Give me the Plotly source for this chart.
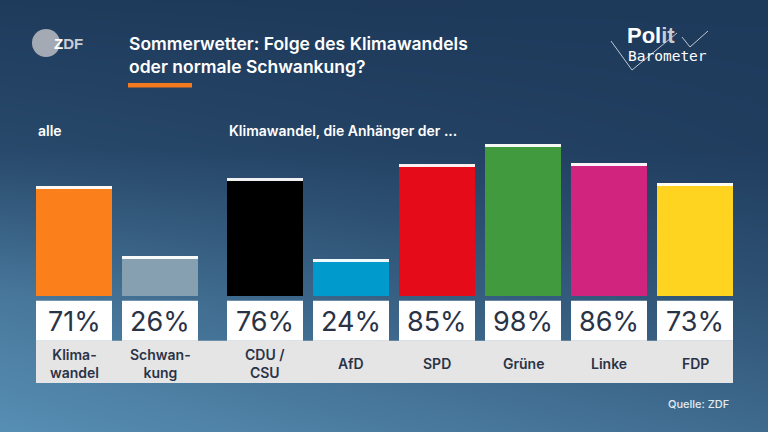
import plotly.graph_objects as go

# ---- data ----
categories = ["Klima-<br>wandel", "Schwan-<br>kung", "CDU /<br>CSU", "AfD", "SPD", "Grüne", "Linke", "FDP"]
values = [71, 26, 76, 24, 85, 98, 86, 73]
groups = [0, 0, 1, 1, 1, 1, 1, 1]
bar_colors = ["#fb7f1b", "#86a0b1", "#000000", "#009acd", "#e50b18", "#419b3e", "#d0247f", "#fed420"]

title_text = "Sommerwetter: Folge des Klimawandels<br>oder normale Schwankung?"
group_titles = ["alle", "Klimawandel, die Anhänger der ..."]
source_text = "Quelle: ZDF"

# ---- layout constants (pixels) ----
W, H = 768, 432
BASE_PX = 296.0          # pixel row of value 0
PX_PER_UNIT = 1.55       # pixels per percentage point
FIRST_CENTER = 74
PITCH = 86
GROUP_GAP = 19
BAR_W = 76
CAP = 1.9                # white cap thickness in value units

y_top = BASE_PX / PX_PER_UNIT
y_bottom = -(H - BASE_PX) / PX_PER_UNIT


def px2val(p):
    return (BASE_PX - p) / PX_PER_UNIT


def py(p):
    return 1 - p / H


centers = [FIRST_CENTER + i * PITCH + GROUP_GAP * g for i, g in enumerate(groups)]

fig = go.Figure()

# background gradient (heatmap)
bg_x = [-40, 384, 808]
bg_y_px = [-40, 150, 300, 472]
bg_t = [
    [0.0, 0.0, 0.02],
    [0.2, 0.12, 0.06],
    [0.72, 0.45, 0.28],
    [1.0, 0.82, 0.6],
]
fig.add_trace(go.Heatmap(
    x=bg_x, y=[px2val(p) for p in bg_y_px], z=bg_t,
    colorscale=[[0, "#1c3758"], [1, "#5c96bb"]], zmin=0, zmax=1,
    zsmooth="best", showscale=False, hoverinfo="skip"))

# bars
fig.add_trace(go.Bar(x=centers, y=values, base=[0] * len(values), width=BAR_W,
                     marker=dict(color=bar_colors, line=dict(width=0)), hoverinfo="skip"))
# white caps
fig.add_trace(go.Bar(x=centers, y=[CAP] * len(values), base=[v - CAP for v in values], width=BAR_W,
                     marker=dict(color="rgba(255,255,255,0.94)", line=dict(width=0)), hoverinfo="skip"))

shapes = []
# gray label band
shapes.append(dict(type="rect", xref="x", yref="paper",
                   x0=centers[0] - BAR_W / 2, x1=centers[-1] + BAR_W / 2,
                   y0=py(383), y1=py(340.7), fillcolor="#e6e5e5", line=dict(width=0)))
# white value boxes
for c in centers:
    shapes.append(dict(type="rect", xref="x", yref="paper",
                       x0=c - BAR_W / 2, x1=c + BAR_W / 2,
                       y0=py(340.7), y1=py(300.7), fillcolor="#ffffff", line=dict(width=0)))
# orange title underline
shapes.append(dict(type="rect", xref="x", yref="paper", x0=128, x1=192,
                   y0=py(87.5), y1=py(83), fillcolor="#f47a1f", line=dict(width=0)))
# ZDF logo circle
shapes.append(dict(type="circle", xref="x", yref="paper", x0=32, x1=60,
                   y0=py(57), y1=py(29), fillcolor="#a4aab4", line=dict(width=0)))
# Politbarometer zigzag
zig = [[(611, 41), (632, 70), (677, 33)], [(682, 37), (690, 47), (708, 31)]]
for seg in zig:
    for (xa, ya), (xb, yb) in zip(seg[:-1], seg[1:]):
        shapes.append(dict(type="line", xref="x", yref="paper", x0=xa, x1=xb,
                           y0=py(ya), y1=py(yb), line=dict(color="rgba(220,225,232,0.85)", width=1)))

annotations = []
dark = "#2a3346"
for c, v, lab in zip(centers, values, categories):
    annotations.append(dict(x=c, y=py(321.5), xref="x", yref="paper", text=f"{v}%",
                            showarrow=False, xanchor="center", yanchor="middle",
                            font=dict(family="Inter", size=27, color=dark, weight=400)))
    annotations.append(dict(x=c, y=py(363.5), xref="x", yref="paper", text=lab,
                            showarrow=False, xanchor="center", yanchor="middle",
                            font=dict(family="Inter", size=14, color=dark, weight=600)))

# group headers
group_x = [centers[groups.index(0)] - BAR_W / 2, centers[groups.index(1)] - BAR_W / 2]
for gx, gt in zip(group_x, group_titles):
    annotations.append(dict(x=gx, y=py(130), xref="x", yref="paper", text=gt, showarrow=False,
                            xanchor="left", yanchor="middle",
                            font=dict(family="Inter", size=14, color="#ffffff", weight=600)))

# title
annotations.append(dict(x=127, y=py(55.5), xref="x", yref="paper", text=title_text, showarrow=False,
                        xanchor="left", yanchor="middle", align="left",
                        font=dict(family="Inter", size=17.5, color="#ffffff", weight=600)))
# ZDF logo text
annotations.append(dict(x=52, y=py(43.5), xref="x", yref="paper",
                        text="<b>Z<span style='color:#c9cdd4'>DF</span></b>", showarrow=False,
                        xanchor="left", yanchor="middle",
                        font=dict(family="Liberation Sans", size=15, color="#ffffff")))
# Politbarometer logo text
annotations.append(dict(x=625, y=py(35.5), xref="x", yref="paper",
                        text="<b>Pol<span style='color:#c8ccd3'>it</span></b>", showarrow=False,
                        xanchor="left", yanchor="middle",
                        font=dict(family="Liberation Sans", size=22, color="#ffffff")))
annotations.append(dict(x=626, y=py(56), xref="x", yref="paper", text="Barometer", showarrow=False,
                        xanchor="left", yanchor="middle",
                        font=dict(family="DejaVu Sans Mono", size=14.5, color="#ffffff")))
# source
annotations.append(dict(x=731, y=py(404), xref="x", yref="paper", text=source_text, showarrow=False,
                        xanchor="right", yanchor="middle",
                        font=dict(family="Inter", size=11, color="#e2eaf1", weight=500)))

fig.update_layout(
    width=W, height=H, margin=dict(l=0, r=0, t=0, b=0),
    paper_bgcolor="#1c3758", plot_bgcolor="#1c3758",
    barmode="overlay", bargap=0, showlegend=False,
    shapes=shapes, annotations=annotations,
    xaxis=dict(range=[0, W], visible=False, fixedrange=True),
    yaxis=dict(range=[y_bottom, y_top], visible=False, fixedrange=True),
)

fig.write_html("out.html", config={"displayModeBar": False})
